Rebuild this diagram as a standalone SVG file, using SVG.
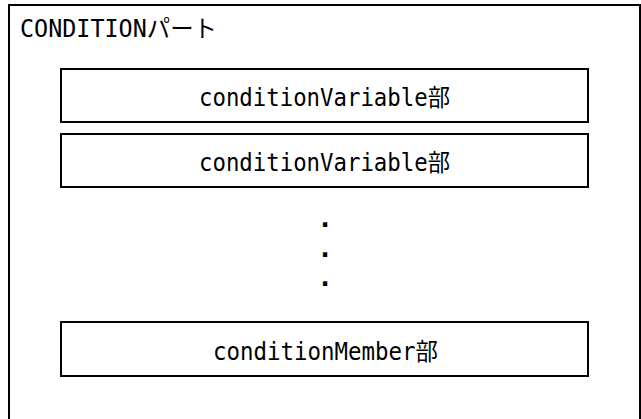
<svg xmlns="http://www.w3.org/2000/svg" width="641" height="419" viewBox="0 0 641 419">
<style>
.box{fill:#ffffff;stroke:#000000;stroke-width:2}
.t{font-family:"DejaVu Sans Mono","Noto Sans CJK JP",monospace;font-size:24px;fill:#000000}
.dot{font-family:"DejaVu Sans","Noto Sans CJK JP",sans-serif;font-weight:bold;font-size:24px;fill:#000000;text-anchor:middle}
</style>
<rect width="641" height="419" fill="#ffffff"/>
<g id="condition-part">
<path d="M9,425 V5 H640 V425" fill="#ffffff" stroke="#000000" stroke-width="2"/>
<text class="t" x="20" y="37" textLength="197" lengthAdjust="spacingAndGlyphs">CONDITIONパート</text>
</g>
<g id="variable1">
<rect class="box" x="61" y="69" width="527" height="53"/>
<text class="t" x="199" y="106" textLength="251" lengthAdjust="spacingAndGlyphs">conditionVariable部</text>
</g>
<g id="variable2">
<rect class="box" x="61" y="134" width="527" height="53"/>
<text class="t" x="199" y="171" textLength="251" lengthAdjust="spacingAndGlyphs">conditionVariable部</text>
</g>
<g id="ellipsis">
<text class="dot" x="325" y="227">.</text>
<text class="dot" x="325" y="257">.</text>
<text class="dot" x="325" y="286">.</text>
</g>
<g id="member">
<rect class="box" x="61" y="322" width="527" height="54"/>
<text class="t" x="213" y="360" textLength="225" lengthAdjust="spacingAndGlyphs">conditionMember部</text>
</g>
<g id="connectors"></g>
</svg>
